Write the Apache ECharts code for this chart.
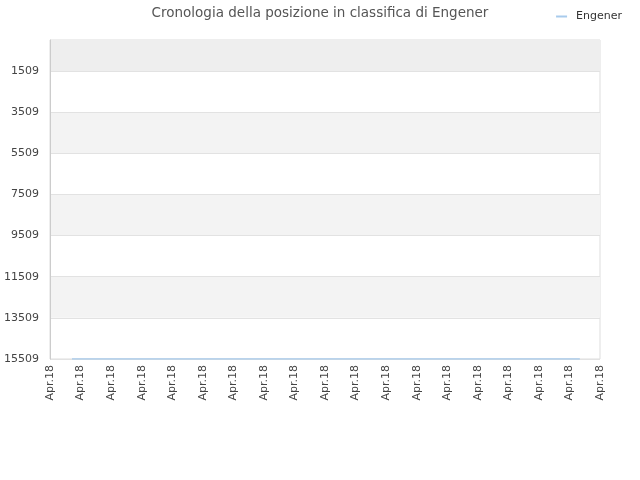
<!DOCTYPE html>
<html><head><meta charset="utf-8">
<script src="https://cdn.jsdelivr.net/npm/echarts@6/dist/echarts.min.js"></script>
<style>html,body{margin:0;padding:0;background:#fff}#c{width:640px;height:480px}</style>
</head><body><div id="c"></div>
<script>
const titleText = 'Cronologia della posizione in classifica di Engener';
const seriesName = 'Engener';
const xTickLabels = ['Apr.18','Apr.18','Apr.18','Apr.18','Apr.18','Apr.18','Apr.18','Apr.18','Apr.18','Apr.18','Apr.18','Apr.18','Apr.18','Apr.18','Apr.18','Apr.18','Apr.18','Apr.18','Apr.18'];
const xPositions = [0.72, 17.34];
const rankValues = [15509, 15509];
const yTicks = [1509, 3509, 5509, 7509, 9509, 11509, 13509, 15509];
const yMin = 1, yMax = 15509;

const chart = echarts.init(document.getElementById('c'));
const font = 'DejaVu Sans';
chart.setOption({
  animation: false,
  title: { text: titleText, left: 'center', top: 1, textStyle: { fontFamily: font, fontSize: 13.5, fontWeight: 'normal', color: '#555' } },
  legend: { right: 13, top: 6, itemWidth: 11, itemHeight: 2, icon: 'rect', textStyle: { fontFamily: font, fontSize: 11, color: '#333', padding: [0, 0, 0, 4] }, data: [seriesName] },
  grid: { left: 50, right: 40, top: 40, bottom: 121, show: true, borderColor: '#ddd', borderWidth: 1, containLabel: false, outerBoundsMode: 'none' },
  xAxis: {
    type: 'value', min: 0, max: xTickLabels.length - 1, interval: 1,
    axisLine: { show: false }, axisTick: { show: false }, splitLine: { show: false },
    axisLabel: { rotate: 90, fontFamily: font, fontSize: 11, color: '#444', margin: 6, formatter: (v) => xTickLabels[Math.round(v)] }
  },
  yAxis: {
    type: 'value', inverse: true, min: yMin, max: yMax, z: 5,
    axisLine: { show: true, lineStyle: { color: '#ccc' } },
    axisTick: { show: false, customValues: yTicks },
    axisLabel: { customValues: yTicks, fontFamily: font, fontSize: 11, color: '#444', margin: 11, formatter: (v) => String(v) },
    splitLine: { show: true, customValues: yTicks, lineStyle: { color: '#e2e2e2' } },
    splitArea: { show: false }
  },
  series: [{
    name: seriesName, type: 'line', symbol: 'none', z: 6,
    data: xPositions.map((x, i) => [x, rankValues[i]]),
    lineStyle: { color: '#a8cbec', width: 1.5 }, itemStyle: { color: '#a8cbec' },
    markArea: {
      silent: true, z: 1,
      data: [
        [{ yAxis: yMin, itemStyle: { color: '#eeeeee' } }, { yAxis: yTicks[0] }],
        [{ yAxis: yTicks[1], itemStyle: { color: '#f3f3f3' } }, { yAxis: yTicks[2] }],
        [{ yAxis: yTicks[3], itemStyle: { color: '#f3f3f3' } }, { yAxis: yTicks[4] }],
        [{ yAxis: yTicks[5], itemStyle: { color: '#f3f3f3' } }, { yAxis: yTicks[6] }]
      ]
    }
  }]
});
</script></body></html>
